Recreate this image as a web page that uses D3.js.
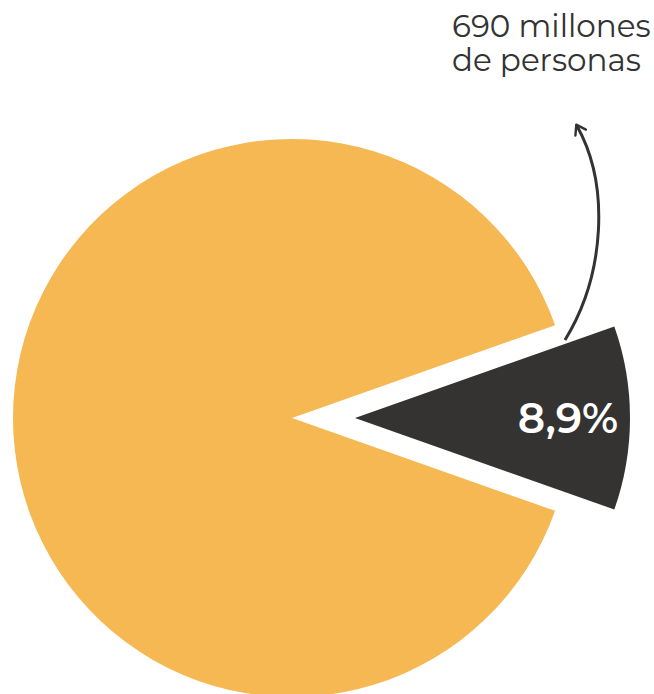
<!DOCTYPE html>
<html>
<head>
<meta charset="utf-8">
<script src="https://cdn.jsdelivr.net/npm/d3@7"></script>
<style>
  html, body { margin: 0; padding: 0; background: #fff; }
  svg { display: block; }
</style>
</head>
<body>
<svg id="chart" width="654" height="694"></svg>
<script>
// Data
const categories = ["690 millones de personas", "Resto"];
// slice shares as drawn in the picture (the dark wedge spans ~39°)
const drawnShares = [10.8, 89.2];
const sliceLabels = ["8,9%", ""];
const noteLines = ["690 millones", "de personas"];
const colors = ["#343331", "#F5B853"];

const svg = d3.select("#chart");
const cx = 292, cy = 418, R = 279, explode = 63;

const data = categories.map((c, i) => ({ cat: c, value: drawnShares[i], label: sliceLabels[i], color: colors[i] }));
const half = (drawnShares[0] / d3.sum(drawnShares)) * Math.PI; // half-angle of highlighted slice
const pie = d3.pie().sort(null).value(d => d.value)
  .startAngle(Math.PI / 2 - half).endAngle(Math.PI / 2 - half + 2 * Math.PI);
const arc = d3.arc().innerRadius(0).outerRadius(R);
const arcs = pie(data);

const g = svg.append("g").attr("transform", `translate(${cx},${cy})`);

g.selectAll("path.slice").data(arcs).join("path")
  .attr("class", "slice")
  .attr("fill", d => d.data.color)
  .attr("d", (d, i) => i === 0 ? d3.arc().innerRadius(0).outerRadius(R - 4)(d) : arc(d))
  .attr("transform", (d, i) => {
    if (i !== 0) return null;
    const a = (d.startAngle + d.endAngle) / 2;
    return `translate(${explode * Math.sin(a)},${-explode * Math.cos(a)})`;
  });

// label inside highlighted slice
const hl = arcs[0];
const am = (hl.startAngle + hl.endAngle) / 2;
const lr = 213;
g.append("text")
  .attr("x", (explode + lr) * Math.sin(am))
  .attr("y", -(explode + lr) * Math.cos(am))
  .attr("text-anchor", "middle")
  .attr("dominant-baseline", "central")
  .attr("fill", "#ffffff")
  .attr("font-family", "Montserrat, 'Open Sans', sans-serif")
  .attr("font-weight", 600)
  .attr("font-size", 42)
  .text(hl.data.label);

// annotation text (one text element per line)
svg.selectAll("text.note").data(noteLines).join("text")
  .attr("class", "note")
  .attr("font-family", "Montserrat, 'Open Sans', sans-serif")
  .attr("font-size", 31)
  .attr("fill", "#333333")
  .attr("x", 452)
  .attr("y", (d, i) => 37 + i * 34)
  .text(d => d);

// curved arrow
svg.append("defs").append("marker")
  .attr("id", "arrow")
  .attr("viewBox", "0 0 10 10")
  .attr("refX", 6).attr("refY", 5)
  .attr("markerWidth", 5).attr("markerHeight", 5)
  .attr("orient", "auto-start-reverse")
  .attr("markerUnits", "strokeWidth")
  .append("path")
  .attr("d", "M1,1 L7,5 L1,9")
  .attr("fill", "none")
  .attr("stroke", "#333")
  .attr("stroke-width", 1.6)
  .attr("stroke-linecap", "round")
  .attr("stroke-linejoin", "round");

svg.append("path")
  .attr("d", "M565,340 C605,275 610,185 577,126")
  .attr("fill", "none")
  .attr("stroke", "#333")
  .attr("stroke-width", 3)
  .attr("marker-end", "url(#arrow)");
</script>
</body>
</html>
